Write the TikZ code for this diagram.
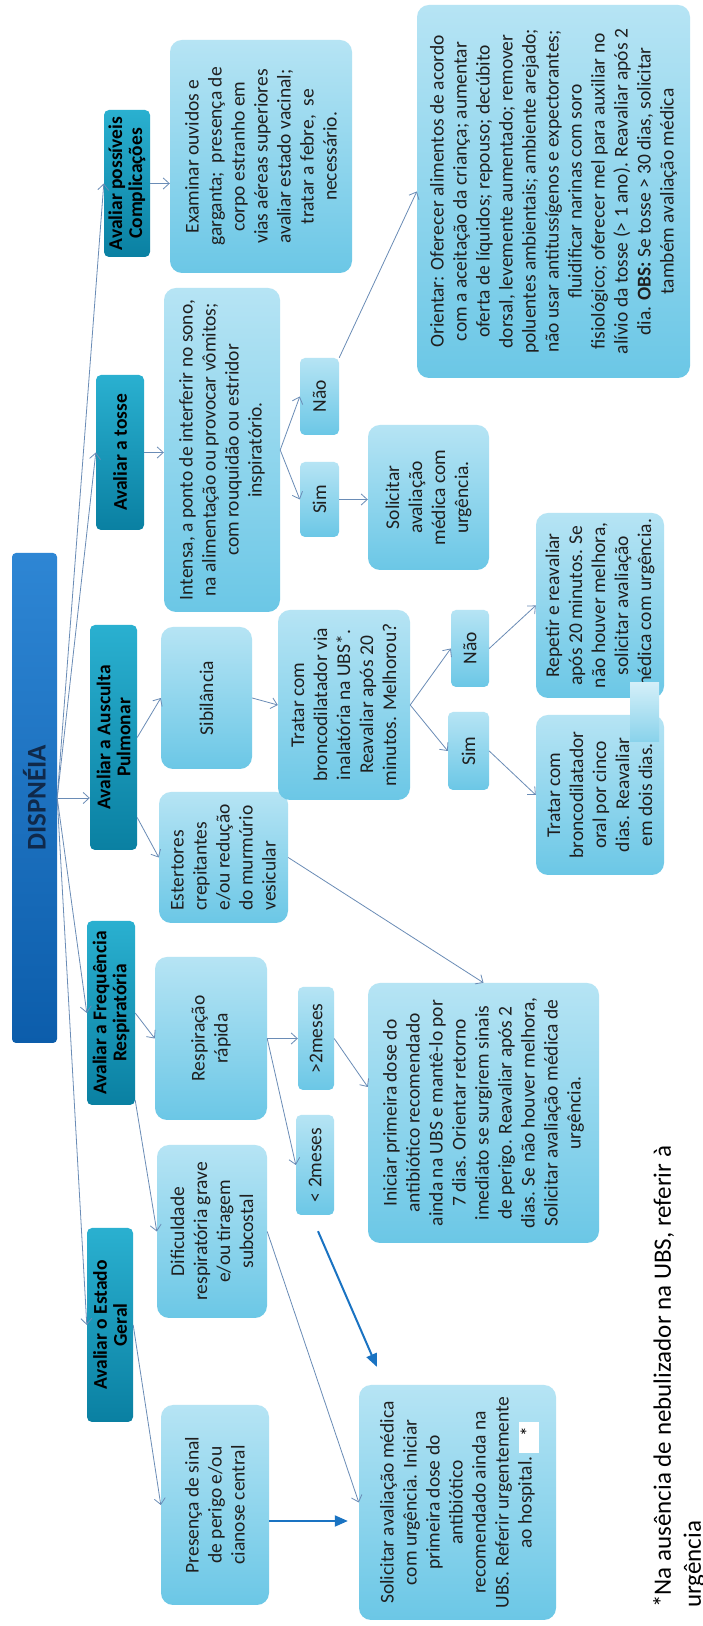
\documentclass[tikz,border=0pt]{standalone}
\usepackage{fontspec}
\setmainfont{Carlito}
\usetikzlibrary{arrows.meta,calc}
\definecolor{boxtop}{HTML}{B6E4F4}
\definecolor{boxbot}{HTML}{6BC7E6}
\definecolor{headtop}{HTML}{2AB0D0}
\definecolor{headbot}{HTML}{0A80A2}
\definecolor{maintop}{HTML}{2E86D4}
\definecolor{mainbot}{HTML}{0C5DAB}
\definecolor{maintext}{HTML}{10294A}
\definecolor{linkc}{HTML}{6A8CB6}
\definecolor{bluearr}{HTML}{1A73C2}
\definecolor{txt}{HTML}{1F1F1F}
\tikzset{
  boxsize/.style 2 args={minimum width=#1pt, minimum height=#2pt},
  flowbox/.style={rounded corners=12pt, align=center, inner sep=3pt, text=txt,
    top color=boxtop, bottom color=boxbot, font=\fontsize{19.5}{23}\selectfont},
  tagbox/.style={flowbox, rounded corners=5pt},
  headbox/.style={rounded corners=5pt, align=center, inner sep=2pt, text=black,
    top color=headtop, bottom color=headbot, font=\bfseries\fontsize{19.5}{20}\selectfont},
  titlebox/.style={rounded corners=4pt, inner sep=2pt, text=maintext,
    top color=maintop, bottom color=mainbot, font=\bfseries\fontsize{27}{30}\selectfont},
  starbox/.style={fill=white, inner sep=0pt, minimum width=31pt, minimum height=20pt,
    font=\fontsize{19.5}{23}\selectfont},
  link/.style={-{Straight Barb[length=6pt,width=11pt]}, line width=0.8pt, draw=linkc},
  bigarr/.style={-{Triangle[length=13pt,width=11pt]}, line width=2pt, draw=bluearr}
}
\begin{document}
\begin{tikzpicture}[x=1pt,y=1pt,rotate=90,transform shape]
  \useasboundingbox[fill=white] (0,0) rectangle (1626,-703);
  \node[titlebox, boxsize={490}{45}] (dis) at (828,-34.5) {DISPNÉIA};
  \node[headbox, boxsize={194}{46}] (hEG) at (301,-110) {Avaliar o Estado\\Geral};
  \node[headbox, boxsize={184}{48}] (hFR) at (613,-111) {Avaliar a Frequência\\Respiratória};
  \node[headbox, boxsize={225}{47}] (hAP) at (888.5,-113.5) {Avaliar a Ausculta\\Pulmonar};
  \node[headbox, boxsize={155}{48}] (hAT) at (1173.5,-120) {Avaliar a tosse};
  \node[headbox, boxsize={147}{46}] (hPC) at (1442.5,-127) {Avaliar possíveis\\Complicações};

  \node[flowbox, boxsize={200}{108}] (pres) at (121,-215) {Presença de sinal\\de perigo e/ou\\cianose central};
  \node[flowbox, boxsize={173}{110}] (dif) at (394.5,-212) {Dificuldade\\respiratória grave\\e/ou tiragem\\subcostal};
  \node[flowbox, boxsize={163}{112}] (resp) at (587.5,-211) {Respiração\\rápida};
  \node[flowbox, boxsize={131}{129}, align=left] (est) at (768.5,-223.5) {Estertores\\crepitantes\\e/ou redução\\do murmúrio\\vesicular};
  \node[flowbox, boxsize={142}{91}] (sib) at (928,-206.5) {Sibilância};
  \node[flowbox, boxsize={324}{116}] (int) at (1176,-222) {Intensa, a ponto de interferir no sono,\\na alimentação ou provocar vômitos;\\com rouquidão ou estridor\\inspiratório.};
  \node[flowbox, boxsize={233}{182}] (exa) at (1469.5,-261) {Examinar ouvidos e\\garganta;\ \ presença de\\corpo estranho em\\vias aéreas superiores\\avaliar estado vacinal;\\tratar a febre,\ \ se\\necessário.};

  \node[tagbox, boxsize={100}{38}] (lt2) at (461,-315) {< 2meses};
  \node[tagbox, boxsize={103}{36}] (gt2) at (587.5,-316) {>2meses};
  \node[flowbox, boxsize={190}{132}] (tinal) at (921,-344) {Tratar com\\broncodilatador via\\inalatória na UBS*.\\Reavaliar após 20\\minutos. Melhorou?};
  \node[tagbox, boxsize={75}{39}] (simT) at (1126.5,-319.5) {Sim};
  \node[tagbox, boxsize={77}{39}] (naoT) at (1229.5,-319.5) {Não};
  \node[flowbox, boxsize={145}{121}] (solT) at (1128.5,-428.5) {Solicitar\\avaliação\\médica com\\urgência.};
  \node[flowbox, boxsize={373}{273}] (ori) at (1434.5,-553.5) {Orientar: Oferecer alimentos de acordo\\com a aceitação da criança; aumentar\\oferta de líquidos; repouso; decúbito\\dorsal, levemente aumentado; remover\\poluentes ambientais; ambiente arejado;\\não usar antitussígenos e expectorantes;\\fluidificar narinas com soro\\fisiológico; oferecer mel para auxiliar no\\alívio da tosse (> 1 ano). Reavaliar após 2\\dia. \textbf{OBS:} Se tosse > 30 dias, solicitar\\também avaliação médica};

  \node[flowbox, boxsize={235}{197}] (solG) at (123.5,-457.5) {Solicitar avaliação médica\\com urgência. Iniciar\\primeira dose do\\antibiótico\\recomendado ainda na\\UBS. Referir urgentemente\\ao hospital.};
  \node[starbox] (ast) at (188.5,-529) {\hspace*{12pt}\raisebox{3pt}{*}};
  \node[flowbox, boxsize={260}{231}] (ini) at (513,-483.5) {Iniciar primeira dose do\\antibiótico recomendado\\ainda na UBS e mantê-lo por\\7 dias. Orientar retorno\\imediato se surgirem sinais\\de perigo. Reavaliar após 2\\dias. Se não houver melhora,\\Solicitar avaliação médica de\\urgência.};
  \node[tagbox, boxsize={78}{41}] (simA) at (875,-468.5) {Sim};
  \node[tagbox, boxsize={77}{38}] (naoA) at (977.5,-470) {Não};
  \node[flowbox, boxsize={160}{128}] (toral) at (831,-600) {Tratar com\\broncodilatador\\oral por cinco\\dias. Reavaliar\\em dois dias.};
  \node[flowbox, boxsize={185}{128}] (rep) at (1020.5,-600) {Repetir e reavaliar\\após 20 minutos. Se\\não houver melhora,\\solicitar avaliação\\médica com urgência.};
  \fill[top color=white!40!boxtop, bottom color=boxbot!80] (884,-630) rectangle (943,-659);

  \node[anchor=north west, inner sep=0pt, align=left, text=black,
    font=\fontsize{25}{30}\selectfont] (nota) at (18,-653) {*Na ausência de nebulizador na UBS, referir à\\urgência};

  \draw[link] (dis.south) -- (hEG.north);
  \draw[link] (dis.south) -- (hFR.north);
  \draw[link] (dis.south) -- ([xshift=-60.5]hAP.north);
  \draw[link] (dis.south) -- (hAT.north);
  \draw[link] (dis.south) -- (hPC.north);
  \draw[link] (hEG.south) -- (pres.north);
  \draw[link] ([xshift=5]hFR.south west) -- (dif.north);
  \draw[link] (hFR.south) -- (resp.north);
  \draw[link] ([xshift=-80]hAP.south) -- (est.north);
  \draw[link] (hAP.south) -- (sib.north);
  \draw[link] (hAT.south) -- ([xshift=-2.5]int.north);
  \draw[link] (hPC.south) -- ([xshift=-27]exa.north);
  \draw[link] (dif.south) -- (solG.north);
  \draw[link] (resp.south) -- (gt2.north);
  \draw[link] (resp.south) -- (lt2.north);
  \draw[link] (gt2.south) -- ([xshift=26]ini.north);
  \draw[link] (est.south) -- (ini.east);
  \draw[link] (sib.south) -- (tinal.north);
  \draw[link] (tinal.south) -- (simA.north);
  \draw[link] (tinal.south) -- (naoA.north);
  \draw[link] (simA.south) -- (toral.north);
  \draw[link] (naoA.south) -- (rep.north);
  \draw[link] (int.south) -- (simT.north);
  \draw[link] (int.south) -- (naoT.north);
  \draw[link] (simT.south) -- ([xshift=-2]solT.north);
  \draw[link] (naoT.south east) -- (ori.north);

  \draw[bigarr, shorten >=11pt] ([xshift=-16]pres.south) -- ([xshift=-18.5]solG.north);
  \coordinate (b2s) at ($(lt2.west)+(-16,-3)$);
  \coordinate (b2e) at ($(solG.north east)+(18,-18)$);
  \draw[bigarr] (b2s) -- (b2e);
\end{tikzpicture}
\end{document}
